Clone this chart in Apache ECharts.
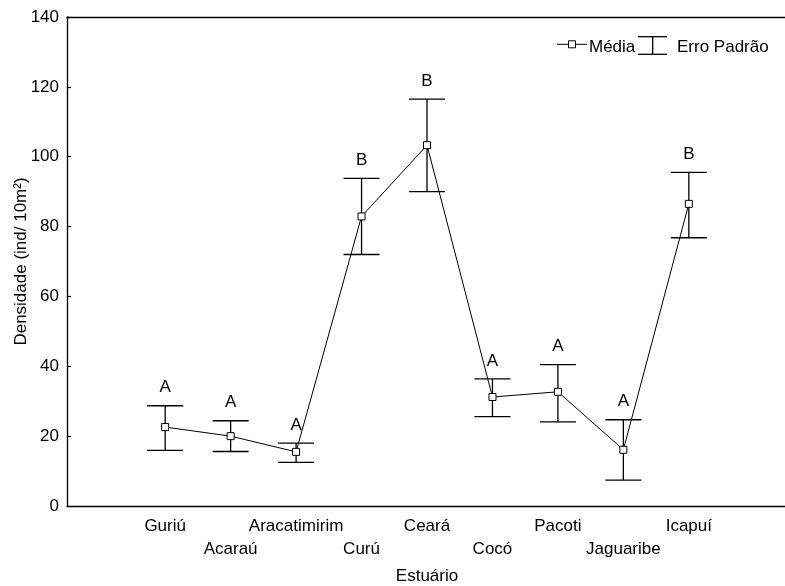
<!DOCTYPE html>
<html>
<head>
<meta charset="utf-8">
<script src="https://cdn.jsdelivr.net/npm/echarts@6/dist/echarts.min.js"></script>
<style>
html,body{margin:0;padding:0;background:#fff;}
#chart{width:785px;height:586px;}
</style>
</head>
<body>
<div id="chart"></div>
<script>
var estuaries = ['Guriú','Acaraú','Aracatimirim','Curú','Ceará','Cocó','Pacoti','Jaguaribe','Icapuí'];
var means = [22.6, 20.0, 15.5, 82.9, 103.3, 31.2, 32.7, 16.1, 86.5];
var upper = [28.7, 24.4, 18.0, 93.8, 116.5, 36.4, 40.5, 24.7, 95.5];
var lower = [15.9, 15.6, 12.5, 72.0, 90.0, 25.6, 24.1, 7.4, 76.8];
var groups = ['A','A','A','B','B','A','A','A','B'];
var yTicks = [0, 20, 40, 60, 80, 100, 120, 140];

var FONT = 'Liberation Sans, Arial, sans-serif';
var cats = [''].concat(estuaries).concat(['']);
var lineData = means.map(function (m, i) { return [i + 1, m]; });
var errData = means.map(function (m, i) { return [i + 1, lower[i], upper[i], groups[i]]; });

var chart = echarts.init(document.getElementById('chart'));
chart.setOption({
  animation: false,
  backgroundColor: '#fff',
  grid: { left: 67, right: -2, top: 17, bottom: 80, outerBoundsMode: 'none', containLabel: false },
  xAxis: [{
    type: 'category',
    data: cats,
    position: 'bottom',
    boundaryGap: true,
    axisLine: { lineStyle: { color: '#000', width: 1.3 } },
    axisTick: { inside: true, length: 4, alignWithLabel: true, lineStyle: { color: '#000', width: 1.2 } },
    axisLabel: {
      interval: 0, color: '#000', fontSize: 17, fontFamily: FONT, margin: 9, lineHeight: 23,
      hideOverlap: false,
      formatter: function (v, i) { return (i % 2 === 0 && v) ? '\n' + v : v; }
    },
    splitLine: { show: false },
    name: 'Estuário',
    nameLocation: 'middle',
    nameGap: 62,
    nameMoveOverlap: false,
    nameTextStyle: { color: '#000', fontSize: 17, fontFamily: FONT }
  }, {
    type: 'category',
    data: cats,
    position: 'top',
    boundaryGap: true,
    axisLine: { lineStyle: { color: '#000', width: 1.3 } },
    axisTick: { inside: true, length: 4, alignWithLabel: true, lineStyle: { color: '#000', width: 1.2 } },
    axisLabel: { show: false },
    splitLine: { show: false }
  }],
  yAxis: {
    type: 'value',
    min: yTicks[0],
    max: yTicks[yTicks.length - 1],
    interval: yTicks[1] - yTicks[0],
    axisLine: { show: true, lineStyle: { color: '#000', width: 1.3 } },
    axisTick: { show: true, inside: true, length: 4, lineStyle: { color: '#000', width: 1.2 } },
    axisLabel: { color: '#000', fontSize: 17, fontFamily: FONT, margin: 8 },
    splitLine: { show: false },
    name: 'Densidade (ind/ 10m²)',
    nameLocation: 'middle',
    nameGap: 37,
    nameMoveOverlap: false,
    nameTextStyle: { color: '#000', fontSize: 17, fontFamily: FONT }
  },
  series: [{
    name: 'Erro Padrão',
    type: 'custom',
    xAxisIndex: 0,
    data: errData,
    z: 2,
    renderItem: function (params, api) {
      var x = api.value(0);
      var lo = api.coord([x, api.value(1)]);
      var hi = api.coord([x, api.value(2)]);
      var hw = 18;
      var st = { stroke: '#000', lineWidth: 1.3 };
      return {
        type: 'group',
        children: [
          { type: 'line', shape: { x1: hi[0], y1: hi[1], x2: lo[0], y2: lo[1] }, style: st },
          { type: 'line', shape: { x1: hi[0] - hw, y1: hi[1], x2: hi[0] + hw, y2: hi[1] }, style: st },
          { type: 'line', shape: { x1: lo[0] - hw, y1: lo[1], x2: lo[0] + hw, y2: lo[1] }, style: st },
          { type: 'text', style: { text: api.value(3), x: hi[0], y: hi[1] - 18, textAlign: 'center', textVerticalAlign: 'middle', fontSize: 17, fontFamily: FONT, fill: '#000' } }
        ]
      };
    }
  }, {
    name: 'Média',
    type: 'line',
    xAxisIndex: 0,
    data: lineData,
    z: 5,
    symbol: 'rect',
    symbolSize: 7,
    showAllSymbol: true,
    lineStyle: { color: '#000', width: 1 },
    itemStyle: { color: '#fff', borderColor: '#000', borderWidth: 1 }
  }],
  graphic: [
    { type: 'line', shape: { x1: 557, y1: 44.3, x2: 587, y2: 44.3 }, style: { stroke: '#000', lineWidth: 1 } },
    { type: 'rect', shape: { x: 568.5, y: 40.8, width: 7, height: 7 }, style: { fill: '#fff', stroke: '#000', lineWidth: 1 }, z: 10 },
    { type: 'text', style: { text: 'Média', x: 589, y: 47.3, textVerticalAlign: 'middle', fontSize: 17, fontFamily: FONT, fill: '#000' } },
    { type: 'line', shape: { x1: 638, y1: 36.7, x2: 667, y2: 36.7 }, style: { stroke: '#000', lineWidth: 1.3 } },
    { type: 'line', shape: { x1: 652.7, y1: 36.7, x2: 652.7, y2: 54.3 }, style: { stroke: '#000', lineWidth: 1.3 } },
    { type: 'line', shape: { x1: 638, y1: 54.3, x2: 667, y2: 54.3 }, style: { stroke: '#000', lineWidth: 1.3 } },
    { type: 'text', style: { text: 'Erro Padrão', x: 677, y: 47.3, textVerticalAlign: 'middle', fontSize: 17, fontFamily: FONT, fill: '#000' } }
  ]
});
</script>
</body>
</html>
